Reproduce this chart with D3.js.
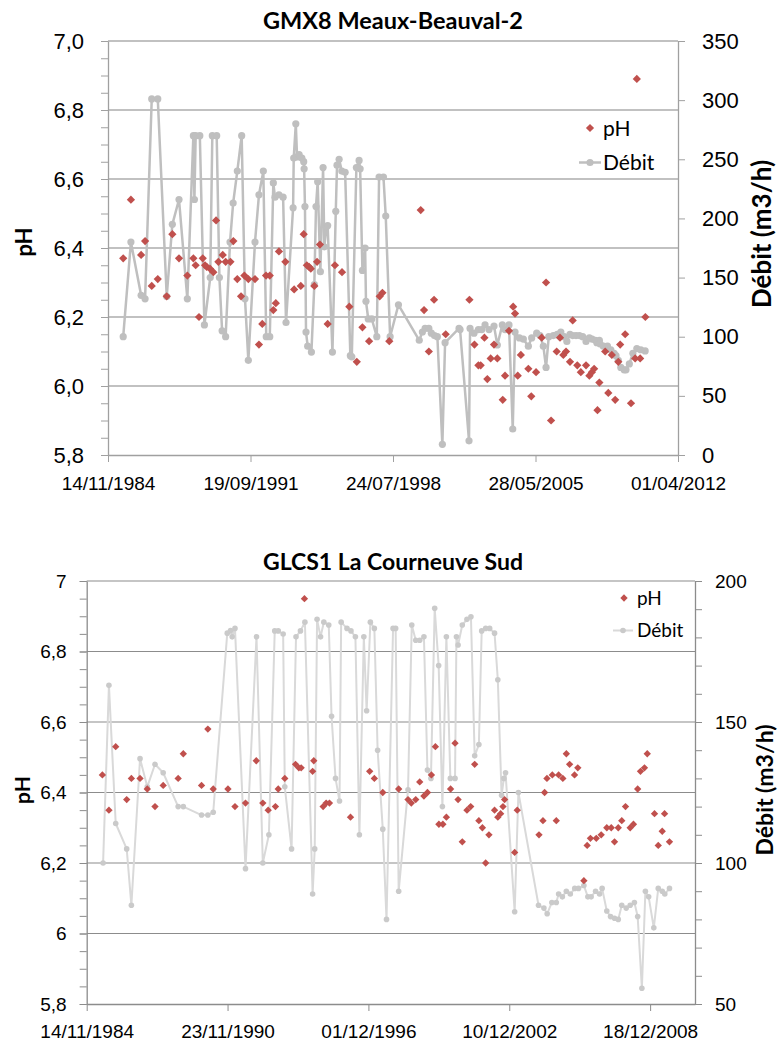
<!DOCTYPE html>
<html>
<head>
<meta charset="utf-8">
<script src="https://cdn.jsdelivr.net/npm/d3@7"></script>
<style>
  body { margin: 0; background: #fff; }
  svg { display: block; font-family: Lato, "Open Sans", sans-serif; }
</style>
</head>
<body>
<svg id="chart" width="778" height="1043"></svg>
<script>
// ---- GMX8 Meaux-Beauval-2 (dates as decimal years) ----
const gmxPhDates = [1985.60,1985.97,1986.46,1986.65,1986.97,1987.26,1987.69,1987.96,1988.28,1988.68,
  1988.97,1989.08,1989.24,1989.42,1989.53,1989.61,1989.77,1989.93,1990.06,1990.17,
  1990.38,1990.52,1990.75,1990.89,1991.08,1991.26,1991.42,1991.61,1991.93,1992.12,
  1992.28,1992.46,1992.64,1992.81,1992.93,1993.08,1993.39,1993.81,1994.13,1994.27,
  1994.42,1994.53,1994.61,1994.78,1994.91,1995.05,1995.42,1995.77,1996.11,1996.46,
  1996.82,1997.09,1997.41,1997.92,1998.05,1998.38,
  1999.89,2000.05,2000.28,2000.53,2001.09,2002.23,2002.47,2002.66,2002.77,2002.95,
  2003.09,2003.25,2003.41,2003.57,2003.83,2003.94,2004.13,2004.33,2004.42,2004.55,
  2004.70,2005.06,2005.20,2005.43,2005.70,2005.91,2006.15,2006.42,2006.58,2006.74,
  2006.87,2007.06,2007.19,2007.41,2007.58,2007.83,2007.99,2008.11,2008.22,2008.38,
  2008.47,2008.75,2008.90,2009.07,2009.23,2009.38,2009.47,2009.71,2009.99,2010.19,
  2010.27,2010.43,2010.68];
const gmxPh = [6.37,6.54,6.38,6.42,6.29,6.31,6.26,6.44,6.37,6.32,
  6.37,6.35,6.20,6.37,6.35,6.345,6.34,6.33,6.48,6.36,
  6.38,6.36,6.36,6.42,6.31,6.26,6.32,6.31,6.31,6.12,
  6.18,6.32,6.32,6.22,6.24,6.39,6.36,6.28,6.29,6.44,
  6.35,6.345,6.34,6.29,6.36,6.41,6.18,6.35,6.33,6.23,
  6.07,6.17,6.13,6.26,6.27,6.13,
  6.51,6.22,6.10,6.25,6.15,6.25,6.12,6.06,6.06,6.14,
  6.02,6.08,6.12,6.08,5.96,6.03,6.16,6.23,6.21,6.03,
  6.09,6.05,5.97,6.04,6.14,6.30,5.90,6.10,6.14,6.09,
  6.10,6.07,6.19,6.06,6.04,6.06,6.03,6.04,6.05,5.93,
  6.01,6.10,5.98,6.09,5.96,6.07,6.12,6.15,5.95,6.08,
  6.89,6.08,6.20];
const gmxQDates = [1985.60,1985.97,1986.46,1986.65,1986.97,1987.26,1987.69,1987.96,1988.28,1988.68,
  1988.97,1989.02,1989.08,1989.28,1989.50,1989.78,1989.88,1990.09,1990.22,1990.35,
  1990.52,1990.73,1990.88,1991.08,1991.29,1991.45,1991.61,1991.93,1992.12,1992.33,
  1992.47,1992.64,1992.81,1992.89,1993.08,1993.28,1993.42,1993.76,1993.79,1993.89,
  1993.95,1994.05,1994.18,1994.27,1994.29,1994.33,1994.38,1994.46,1994.64,1994.78,
  1994.86,1994.94,1995.07,1995.20,1995.26,1995.36,1995.42,1995.65,1995.81,1995.87,
  1995.97,1996.10,1996.26,1996.51,1996.58,1996.80,1996.93,1996.98,1997.09,1997.22,
  1997.26,1997.37,1997.54,1997.78,1997.89,1998.10,1998.21,1998.42,1998.82,1999.82,
  1999.97,2000.10,2000.28,2000.40,2000.55,2000.69,2000.93,2001.06,2001.73,2001.78,
  2002.21,2002.26,2002.45,2002.66,2002.82,2002.98,2003.17,2003.41,2003.57,2003.81,
  2003.94,2004.13,2004.31,2004.42,2004.63,2004.82,2005.06,2005.22,2005.46,2005.62,
  2005.78,2005.91,2006.04,2006.26,2006.45,2006.62,2006.78,2006.91,2007.06,2007.19,
  2007.35,2007.51,2007.67,2007.83,2007.99,2008.12,2008.28,2008.35,2008.47,2008.50,
  2008.66,2008.86,2009.02,2009.18,2009.27,2009.38,2009.50,2009.66,2009.75,2009.91,
  2010.08,2010.27,2010.46,2010.67];
const gmxQ = [100,180,135,132,301,301,134,195,216,132,
  270,216,270,270,110,150,270,270,150,105,
  100,180,213,240,270,132,80,180,220,240,
  100,100,230,218,220,218,112,209,251,280,
  252,254,251,248,242,210,104,92,87,144,
  210,231,155,243,176,193,194,87,206,245,
  250,240,239,84,83,243,249,242,156,175,
  130,115,115,100,235,235,202,100,127,97,
  104,107,107,103,101,100,9,95,107,106,
  12,107,103,106,106,110,106,109,93,110,
  106,110,22,104,99,98,92,99,103,101,
  92,74,100,101,102,104,100,96,102,101,
  101,101,100,96,99,98,97,95,97,94,
  92,92,89,86,84,80,74,72,72,77,
  86,90,89,88];
const gmxTickLabels = ['14/11/1984','19/09/1991','24/07/1998','28/05/2005','01/04/2012'];
const gmxPhTicks = [5.8,6.0,6.2,6.4,6.6,6.8,7.0];
const gmxQTicks = [0,50,100,150,200,250,300,350];

// ---- GLCS1 La Courneuve Sud ----
const glcPhDates = [1985.54,1985.82,1986.11,1986.58,1986.78,1987.15,1987.46,1987.79,1988.14,1988.78,
  1989.00,1989.78,1990.05,1990.28,1990.91,1991.21,1991.66,1992.12,1992.40,1992.63,
  1992.94,1993.06,1993.34,1993.80,1993.94,1994.04,1994.18,1994.53,1994.58,1994.98,
  1995.11,1995.25,1996.15,1996.97,1997.17,1997.53,1998.21,1998.61,1998.75,1998.94,
  1999.11,1999.29,1999.44,1999.61,1999.78,1999.93,2000.10,2000.25,2000.43,2000.62,
  2000.75,2000.93,2001.13,2001.29,2001.46,2001.64,2001.79,2001.93,2002.07,2002.31,
  2002.45,2002.57,2002.67,2002.74,2003.17,2003.28,2004.21,2004.38,2004.45,2004.55,
  2004.78,2004.95,2005.05,2005.23,2005.38,2005.52,2005.73,2005.87,2006.13,2006.27,
  2006.41,2006.66,2006.87,2007.11,2007.30,2007.44,2007.60,2007.75,2007.91,2008.11,
  2008.25,2008.43,2008.55,2008.72,2008.84,2009.15,2009.31,2009.48,2009.58,2009.79];
const glcPh = [6.45,6.35,6.53,6.38,6.44,6.44,6.41,6.36,6.42,6.44,
  6.51,6.42,6.58,6.41,6.41,6.36,6.37,6.49,6.37,6.35,
  6.36,6.41,6.44,6.48,6.47,6.47,6.95,6.46,6.49,6.36,
  6.37,6.37,6.33,6.46,6.44,6.40,6.41,6.38,6.37,6.38,
  6.43,6.39,6.40,6.45,6.53,6.31,6.31,6.33,6.41,6.54,
  6.38,6.26,6.35,6.36,6.48,6.32,6.30,6.20,6.28,6.35,
  6.33,6.34,6.36,6.38,6.23,6.35,6.28,6.32,6.40,6.44,
  6.45,6.32,6.45,6.44,6.51,6.48,6.45,6.47,6.15,6.25,
  6.27,6.27,6.28,6.30,6.30,6.26,6.30,6.32,6.36,6.30,
  6.31,6.41,6.46,6.47,6.51,6.34,6.25,6.29,6.34,6.26];
const glcQDates = [1985.57,1985.82,1986.11,1986.58,1986.78,1987.15,1987.46,1987.79,1988.14,1988.78,
  1989.00,1989.78,1990.05,1990.28,1990.88,1991.02,1991.09,1991.21,1991.66,1992.13,
  1992.40,1992.66,1992.91,1993.06,1993.27,1993.34,1993.63,1993.82,1994.01,1994.20,
  1994.53,1994.62,1994.72,1994.87,1995.01,1995.22,1995.34,1995.51,1995.68,1995.75,
  1996.00,1996.17,1996.36,1996.53,1996.72,1996.84,1997.00,1997.17,1997.31,1997.53,
  1997.69,1997.97,1998.08,1998.21,1998.61,1998.77,1998.94,1999.11,1999.29,1999.44,
  1999.59,1999.75,1999.92,2000.08,2000.25,2000.42,2000.62,2000.68,2000.75,2000.93,
  2001.13,2001.30,2001.46,2001.64,2001.76,2001.93,2002.10,2002.31,2002.45,2002.61,
  2002.71,2002.78,2003.17,2003.33,2004.19,2004.42,2004.56,2004.76,2004.95,2005.05,
  2005.21,2005.38,2005.55,2005.74,2005.90,2006.13,2006.30,2006.44,2006.63,2006.80,
  2006.91,2007.11,2007.27,2007.44,2007.60,2007.75,2007.94,2008.11,2008.29,2008.43,
  2008.61,2008.76,2008.90,2009.12,2009.31,2009.48,2009.59,2009.79];
const glcQ = [100,163,114,105,85,137,127,135,132,120,
  120,117,117,118,181.5,182.4,180.2,183.2,98,180.2,
  100,110,182.3,182.3,181.2,127,105,180.2,182.3,185.4,
  89,105,186.4,180.2,185.4,184.4,152,130,122,185.4,
  183.2,182.3,180.2,110,180.2,154,185.4,183.2,140,112,
  80,183.2,183.2,90,126,184.4,179,179,180.2,133,
  130,190.3,170,120,180.2,130,130,180.2,177.3,184.4,
  186.4,187.3,138,142,182.3,183.2,183.2,181.5,165,124,
  130,132,82.7,125,85,84,82,86,86,89,
  88,90,89,91,91,92,88,88,90,89,
  91,83,81,80.4,80,85,84,85,86,81,
  55.6,90,88,77,91,90,89,91];
const glcTickLabels = ['14/11/1984','23/11/1990','01/12/1996','10/12/2002','18/12/2008'];
const glcPhTicks = [5.8,6,6.2,6.4,6.6,6.8,7];
const glcQTicks = [50,100,150,200];

const parseDay = d3.utcParse('%d/%m/%Y');
const fmtComma = d3.formatLocale({decimal: ',', thousands: ' ', grouping: [3], currency: ['', '€']});
const yearToDate = y => new Date(Date.UTC(1970, 0, 1) + (y - 1970) * 365.25 * 864e5);

const svg = d3.select('#chart');
svg.append('rect').attr('width', 778).attr('height', 1043).attr('fill', '#fff');

function drawChart(c) {
  const g = svg.append('g');
  const x = d3.scaleUtc()
    .domain([parseDay(c.xLabels[0]), parseDay(c.xEnd)])
    .range([c.left, c.right]);
  const yPh = d3.scaleLinear().domain([5.8, 7]).range([c.bottom, c.top]);
  const yQ = d3.scaleLinear().domain(d3.extent(c.qTicks)).range([c.bottom, c.top]);

  // horizontal gridlines at pH majors
  g.append('g').selectAll('line')
    .data(c.phTicks.filter(v => v > 5.8))
    .join('line')
    .attr('x1', c.left).attr('x2', c.right)
    .attr('y1', d => yPh(d)).attr('y2', d => yPh(d))
    .attr('stroke', c.gridColor).attr('stroke-width', c.gridWidth);

  // left axis: minor then major ticks
  const minor = d3.range(5.8, 7.001, 0.05).map(v => +v.toFixed(2));
  g.append('g').attr('transform', `translate(${c.left},0)`)
    .call(d3.axisLeft(yPh).tickValues(minor).tickSize(c.tick).tickFormat(''))
    .call(a => a.select('.domain').remove())
    .call(a => a.selectAll('line').attr('stroke', c.axisColor));
  g.append('g').attr('transform', `translate(${c.left},0)`)
    .call(d3.axisLeft(yPh).tickValues(c.phTicks).tickSize(c.tick).tickSizeOuter(0)
      .tickPadding(c.leftPad).tickFormat(fmtComma.format(c.phFormat)))
    .call(a => a.select('.domain').attr('stroke', c.axisColor).attr('stroke-width', 1.3))
    .call(a => a.selectAll('line').attr('stroke', c.axisColor))
    .call(a => a.selectAll('text').attr('fill', '#000').attr('font-size', c.yFont).attr('font-family', null));

  // right axis
  if (c.qMinor) {
    g.append('g').attr('transform', `translate(${c.right},0)`)
      .call(d3.axisRight(yQ).tickValues(d3.range(c.qTicks[0], c.qTicks[c.qTicks.length - 1] + 1, c.qMinor))
        .tickSize(c.tick).tickFormat(''))
      .call(a => a.select('.domain').remove())
      .call(a => a.selectAll('line').attr('stroke', c.axisColor));
  }
  g.append('g').attr('transform', `translate(${c.right},0)`)
    .call(d3.axisRight(yQ).tickValues(c.qTicks).tickSize(c.tick).tickSizeOuter(0).tickPadding(c.rightPad))
    .call(a => a.select('.domain').attr('stroke', c.axisColor).attr('stroke-width', 1.3))
    .call(a => a.selectAll('line').attr('stroke', c.axisColor))
    .call(a => a.selectAll('text').attr('fill', '#000').attr('font-size', c.yFont).attr('font-family', null));

  // bottom axis
  g.append('g').attr('transform', `translate(0,${c.bottom})`)
    .call(d3.axisBottom(x).tickValues(c.xLabels.map(parseDay)).tickSize(c.tick).tickSizeOuter(0)
      .tickPadding(c.bottomPad).tickFormat(d3.utcFormat('%d/%m/%Y')))
    .call(a => a.select('.domain').attr('stroke', c.axisColor).attr('stroke-width', 1.3))
    .call(a => a.selectAll('line').attr('stroke', c.axisColor))
    .call(a => a.selectAll('text').attr('fill', '#000').attr('font-size', c.xFont).attr('font-family', null));

  // débit line + markers
  const qData = c.qDates.map((d, i) => ({ date: yearToDate(d), q: c.q[i] }));
  g.append('path').datum(qData)
    .attr('fill', 'none').attr('stroke', c.lineColor).attr('stroke-width', c.lineWidth)
    .attr('stroke-linejoin', 'round')
    .attr('d', d3.line().x(d => x(d.date)).y(d => yQ(d.q)));
  g.append('g').selectAll('circle').data(qData).join('circle')
    .attr('cx', d => x(d.date)).attr('cy', d => yQ(d.q))
    .attr('r', c.dotR).attr('fill', c.dotColor);

  // pH diamonds
  const diamond = d3.symbol(d3.symbolSquare, c.diamondArea);
  const phData = c.phDates.map((d, i) => ({ date: yearToDate(d), ph: c.ph[i] }));
  g.append('g').selectAll('path').data(phData).join('path')
    .attr('d', diamond)
    .attr('transform', d => `translate(${x(d.date)},${yPh(d.ph)}) rotate(45)`)
    .attr('fill', '#C0504D');

  // title
  g.append('text').attr('x', c.titleX).attr('y', c.titleY)
    .attr('text-anchor', 'middle').attr('font-weight', 'bold').attr('font-size', c.titleFont)
    .text(c.title);

  // axis titles
  g.append('text')
    .attr('transform', `translate(${c.phTitleX},${c.phTitleY}) rotate(-90)`)
    .attr('text-anchor', 'middle').attr('font-weight', 'bold').attr('font-size', c.axisTitleFont)
    .text('pH');
  g.append('text')
    .attr('transform', `translate(${c.qTitleX},${c.qTitleY}) rotate(-90)`)
    .attr('text-anchor', 'middle').attr('font-weight', 'bold').attr('font-size', c.qTitleFont)
    .text('Débit (m3/h)');

  // legend
  const lg = g.append('g').attr('font-size', c.legendFont);
  lg.append('path').attr('d', diamond)
    .attr('transform', `translate(${c.legend.dx},${c.legend.y1}) rotate(45)`)
    .attr('fill', '#C0504D');
  lg.append('text').attr('x', c.legend.tx).attr('y', c.legend.y1).attr('dy', '0.36em').text('pH');
  lg.append('line').attr('x1', c.legend.lx1).attr('x2', c.legend.lx2)
    .attr('y1', c.legend.y2).attr('y2', c.legend.y2)
    .attr('stroke', c.lineColor).attr('stroke-width', c.lineWidth);
  lg.append('circle').attr('cx', (c.legend.lx1 + c.legend.lx2) / 2).attr('cy', c.legend.y2)
    .attr('r', c.dotR).attr('fill', c.dotColor);
  lg.append('text').attr('x', c.legend.tx).attr('y', c.legend.y2).attr('dy', '0.36em').text('Débit');
}

drawChart({
  title: 'GMX8 Meaux-Beauval-2', titleX: 393, titleY: 29, titleFont: 23.5,
  left: 108, right: 678, top: 41, bottom: 455,
  xLabels: gmxTickLabels, xEnd: gmxTickLabels[4],
  phTicks: gmxPhTicks, phFormat: '.1f', qTicks: gmxQTicks, qMinor: null,
  phDates: gmxPhDates, ph: gmxPh, qDates: gmxQDates, q: gmxQ,
  tick: 7, leftPad: 17, rightPad: 17, bottomPad: 15,
  yFont: 22, xFont: 19, axisTitleFont: 22, qTitleFont: 26, legendFont: 21,
  gridColor: '#ACACAC', gridWidth: 1.5, axisColor: '#A0A0A0',
  lineColor: '#BFBFBF', lineWidth: 2.5, dotR: 3.6, dotColor: '#BFBFBF', diamondArea: 34,
  phTitleX: 32, phTitleY: 242, qTitleX: 771, qTitleY: 234,
  legend: { dx: 590, tx: 603, y1: 128, y2: 162.5, lx1: 579, lx2: 601 }
});

drawChart({
  title: 'GLCS1 La Courneuve Sud', titleX: 393, titleY: 570, titleFont: 23,
  left: 86.7, right: 695, top: 581, bottom: 1004,
  xLabels: glcTickLabels, xEnd: '19/11/2010',
  phTicks: glcPhTicks, phFormat: '', qTicks: glcQTicks, qMinor: 10,
  phDates: glcPhDates, ph: glcPh, qDates: glcQDates, q: glcQ,
  tick: 7, leftPad: 13, rightPad: 13, bottomPad: 14,
  yFont: 19, xFont: 19, axisTitleFont: 21, qTitleFont: 23, legendFont: 19,
  gridColor: '#8C8C8C', gridWidth: 1.1, axisColor: '#8C8C8C',
  lineColor: '#D9D9D9', lineWidth: 2, dotR: 2.8, dotColor: '#CACACA', diamondArea: 27,
  phTitleX: 30, phTitleY: 790, qTitleX: 772.5, qTitleY: 790,
  legend: { dx: 624, tx: 637, y1: 598, y2: 630.5, lx1: 613, lx2: 633 }
});
</script>
</body>
</html>
